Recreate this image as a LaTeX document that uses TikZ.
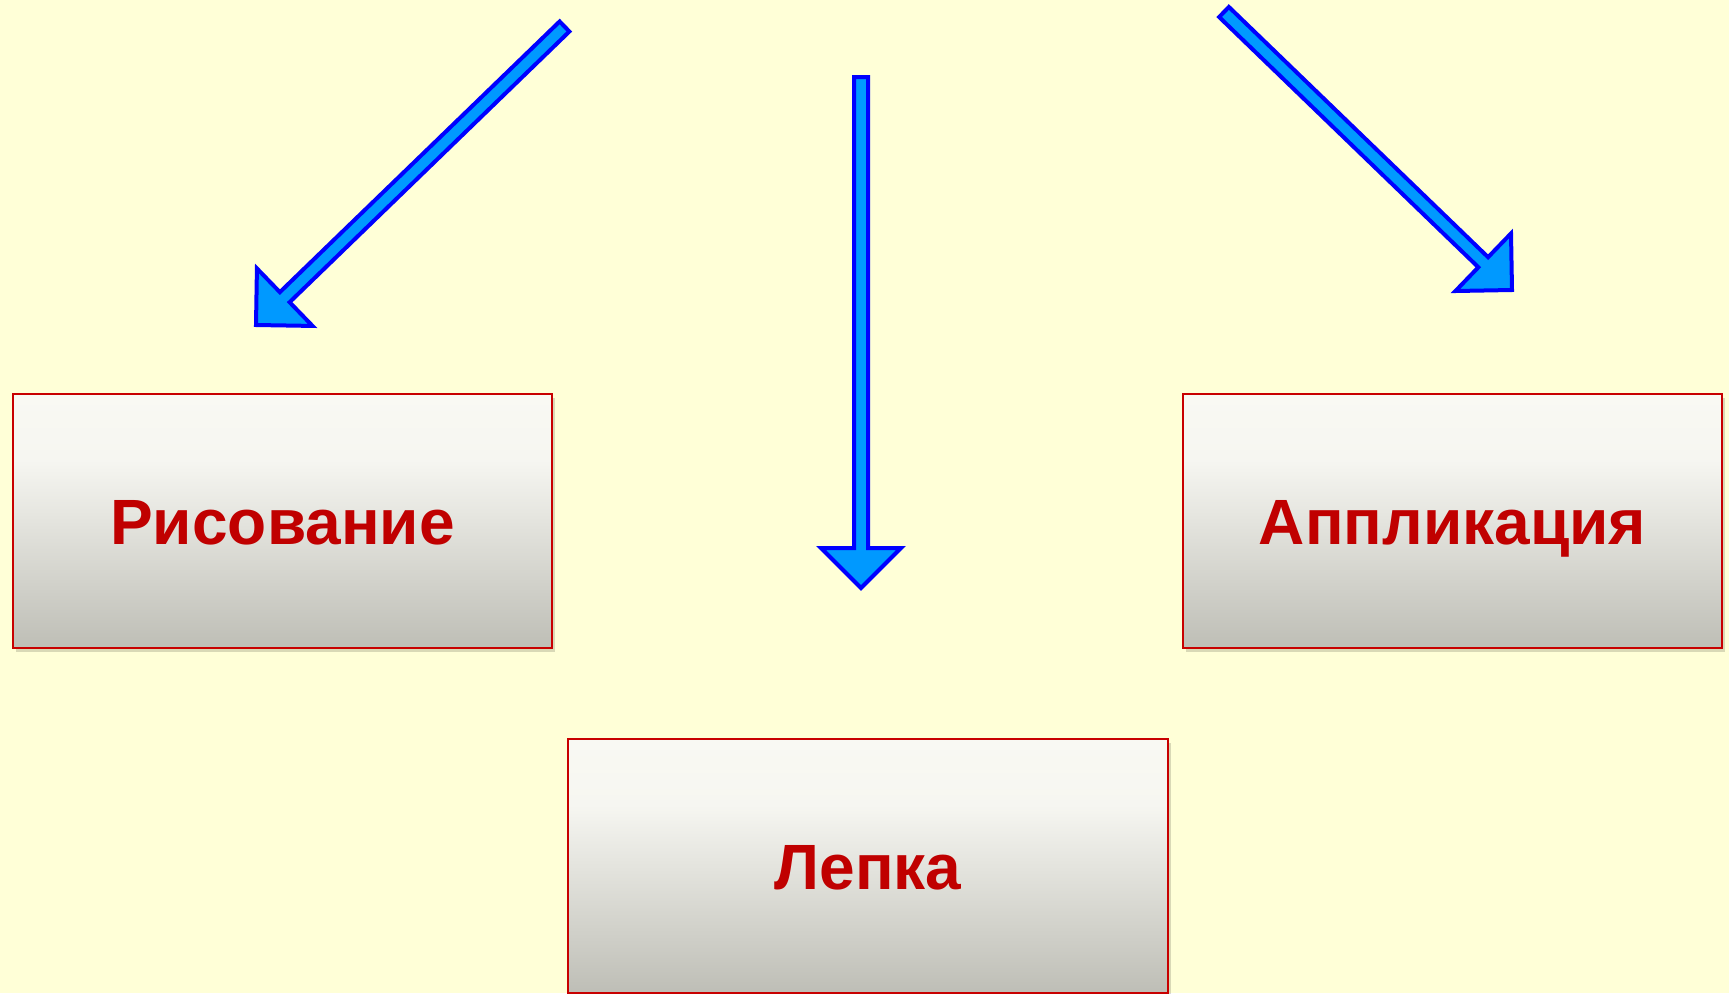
\documentclass[tikz,border=0pt]{standalone}
\usepackage{fontspec}
\setmainfont{Liberation Sans}
\usetikzlibrary{calc,shadows}
\definecolor{bgyellow}{RGB}{255,255,215}
\definecolor{boxred}{RGB}{200,0,0}
\definecolor{textred}{RGB}{192,0,0}
\definecolor{arrowfill}{RGB}{0,153,255}
\definecolor{arrowline}{RGB}{0,0,255}
\definecolor{boxtop}{RGB}{249,249,243}
\definecolor{boxmid}{RGB}{246,246,241}
\definecolor{boxbot}{RGB}{190,190,182}
\pgfdeclareverticalshading{boxshade}{100bp}{color(0bp)=(boxbot); color(25bp)=(boxbot); color(62bp)=(boxmid); color(75bp)=(boxtop); color(100bp)=(boxtop)}
\begin{document}
\begin{tikzpicture}[x=1pt, y=-1pt,
  box/.style={rectangle, draw=boxred, line width=1.8pt, inner sep=0pt,
    minimum height=254pt, text=textred, shading=boxshade,
    text height=46pt, text depth=0pt,
    drop shadow={shadow xshift=3pt, shadow yshift=-4pt, opacity=0.15, fill=black},
    font=\bfseries\fontsize{64}{72}\selectfont},
  fatarrow/.style={fill=arrowfill, draw=arrowline, line width=4pt, line join=miter}]
\useasboundingbox[fill=bgyellow] (0,0) rectangle (1729,993);

\node[box, minimum width=539pt] at (282.5,521)(risovanie) {Рисование};
\node[box, minimum width=539pt] at (1452.5,521)(applikaciya) {Аппликация};
\node[box, minimum width=600pt] at (868,866)(lepka) {Лепка};

\coordinate (lt) at (564.5,26.5);
\coordinate (lp) at (256,325);
\coordinate (mt) at (861,77);
\coordinate (mp) at (861,588);
\coordinate (rt) at (1224,12);
\coordinate (rp) at (1512,290);

\foreach \t/\p in {lt/lp, mt/mp, rt/rp} {
  \coordinate (b) at ($(\p)!40pt!(\t)$);
  \draw[fatarrow] ($(\t)!7pt!90:(\p)$) -- ($(b)!7pt!90:(\p)$) -- ($(b)!40pt!90:(\p)$)
    -- (\p) -- ($(b)!40pt!-90:(\p)$) -- ($(b)!7pt!-90:(\p)$) -- ($(\t)!7pt!-90:(\p)$) -- cycle;
}
\end{tikzpicture}
\end{document}
